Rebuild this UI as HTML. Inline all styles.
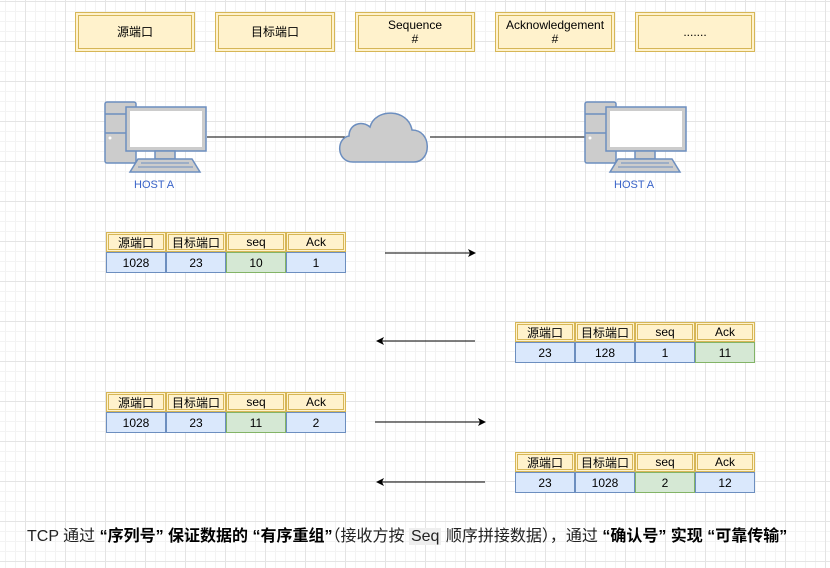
<!DOCTYPE html><html><head><meta charset="utf-8"><style>
body{margin:0;width:830px;height:568px;overflow:hidden;position:relative;font-family:"Liberation Sans","Noto Sans CJK SC",sans-serif;
background-color:#fff;
background-image:linear-gradient(#e4e4e4 1px,transparent 1px),linear-gradient(90deg,#e4e4e4 1px,transparent 1px),linear-gradient(#f3f3f3 1px,transparent 1px),linear-gradient(90deg,#f3f3f3 1px,transparent 1px);
background-size:40px 40px,40px 40px,10px 10px,10px 10px;background-position:0 1px,25px 0,0 1px,5px 0;}
.b{position:absolute;box-sizing:border-box;background:#fff2cc;border:1px solid #d6b656;box-shadow:inset 0 0 0 2px #fff2cc,inset 0 0 0 3px #d6b656;display:flex;align-items:center;justify-content:center;text-align:center;font-size:12px;color:#000;line-height:14px}
.c{position:absolute;box-sizing:border-box;display:flex;align-items:center;justify-content:center;font-size:12px;color:#000}
.h{background:#fff2cc;border:1px solid #d6b656;box-shadow:inset 0 0 0 1px #fff2cc,inset 0 0 0 2px #d6b656}
.d{background:#dae8fc;border:1px solid #6c8ebf}
.g{background:#d5e8d4;border:1px solid #82b366}
.lbl{position:absolute;font-size:11px;color:#3a64c8}
.txt{position:absolute;left:27px;top:522px;font-size:16px;color:#222;white-space:nowrap}
.txt b{color:#000}
.sq{background:#eee;padding:0 2px}
</style></head><body>
<div class="b" style="left:75px;top:12px;width:120px;height:40px">源端口</div>
<div class="b" style="left:215px;top:12px;width:120px;height:40px">目标端口</div>
<div class="b" style="left:355px;top:12px;width:120px;height:40px">Sequence<br>#</div>
<div class="b" style="left:495px;top:12px;width:120px;height:40px">Acknowledgement<br>#</div>
<div class="b" style="left:635px;top:12px;width:120px;height:40px">.......</div>

<svg width="830" height="568" style="position:absolute;left:0;top:0">
<defs><marker id="a" markerWidth="8" markerHeight="8" refX="7" refY="4" orient="auto" markerUnits="userSpaceOnUse"><path d="M0,0 L8,4 L0,8 L2,4z" fill="#000"/></marker>
<g id="pc">
<rect x="0" y="1" width="31" height="61" rx="2" fill="#ccc" stroke="#6c8ebf" stroke-width="1.5"/>
<line x1="0" y1="13" x2="31" y2="13" stroke="#6c8ebf" stroke-width="1.5"/>
<line x1="0" y1="32" x2="31" y2="32" stroke="#6c8ebf" stroke-width="1.5"/>
<circle cx="5" cy="37" r="1.5" fill="#fff"/>
<rect x="21" y="6" width="80" height="44" fill="#ccc" stroke="#6c8ebf" stroke-width="1.5"/>
<rect x="25" y="10" width="72" height="36" fill="#fff"/>
<rect x="50" y="50" width="20" height="8" fill="#ccc" stroke="#6c8ebf" stroke-width="1.5"/>
<path d="M33,58 L87,58 L95,71 L25,71z" fill="#ccc" stroke="#6c8ebf" stroke-width="1.5"/>
<line x1="36" y1="62" x2="84" y2="62" stroke="#6c8ebf"/><line x1="33" y1="66" x2="88" y2="66" stroke="#6c8ebf"/>
</g></defs>
<line x1="207" y1="137" x2="345" y2="137" stroke="#000"/>
<line x1="430" y1="137" x2="585" y2="137" stroke="#000"/>
<path d="M353,162 C336,162 336,138 349,136 C349,124 362,120 370,127 C375,108 408,108 412,130 C432,130 432,162 414,162 Z" fill="#ccc" stroke="#6c8ebf" stroke-width="1.5"/>
<use href="#pc" x="105" y="101"/>
<use href="#pc" x="585" y="101"/>
<line x1="385" y1="253" x2="475" y2="253" stroke="#000" marker-end="url(#a)"/>
<line x1="475" y1="341" x2="377" y2="341" stroke="#000" marker-end="url(#a)"/>
<line x1="375" y1="422" x2="485" y2="422" stroke="#000" marker-end="url(#a)"/>
<line x1="485" y1="482" x2="377" y2="482" stroke="#000" marker-end="url(#a)"/>
</svg>
<div class="lbl" style="left:134px;top:179px">HOST A</div>
<div class="lbl" style="left:614px;top:179px">HOST A</div>

<div class="c h" style="left:106px;top:232px;width:60px;height:20px">源端口</div>
<div class="c h" style="left:166px;top:232px;width:60px;height:20px">目标端口</div>
<div class="c h" style="left:226px;top:232px;width:60px;height:20px">seq</div>
<div class="c h" style="left:286px;top:232px;width:60px;height:20px">Ack</div>
<div class="c d" style="left:106px;top:252px;width:60px;height:21px">1028</div>
<div class="c d" style="left:166px;top:252px;width:60px;height:21px">23</div>
<div class="c g" style="left:226px;top:252px;width:60px;height:21px">10</div>
<div class="c d" style="left:286px;top:252px;width:60px;height:21px">1</div>

<div class="c h" style="left:515px;top:322px;width:60px;height:20px">源端口</div>
<div class="c h" style="left:575px;top:322px;width:60px;height:20px">目标端口</div>
<div class="c h" style="left:635px;top:322px;width:60px;height:20px">seq</div>
<div class="c h" style="left:695px;top:322px;width:60px;height:20px">Ack</div>
<div class="c d" style="left:515px;top:342px;width:60px;height:21px">23</div>
<div class="c d" style="left:575px;top:342px;width:60px;height:21px">128</div>
<div class="c d" style="left:635px;top:342px;width:60px;height:21px">1</div>
<div class="c g" style="left:695px;top:342px;width:60px;height:21px">11</div>

<div class="c h" style="left:106px;top:392px;width:60px;height:20px">源端口</div>
<div class="c h" style="left:166px;top:392px;width:60px;height:20px">目标端口</div>
<div class="c h" style="left:226px;top:392px;width:60px;height:20px">seq</div>
<div class="c h" style="left:286px;top:392px;width:60px;height:20px">Ack</div>
<div class="c d" style="left:106px;top:412px;width:60px;height:21px">1028</div>
<div class="c d" style="left:166px;top:412px;width:60px;height:21px">23</div>
<div class="c g" style="left:226px;top:412px;width:60px;height:21px">11</div>
<div class="c d" style="left:286px;top:412px;width:60px;height:21px">2</div>

<div class="c h" style="left:515px;top:452px;width:60px;height:20px">源端口</div>
<div class="c h" style="left:575px;top:452px;width:60px;height:20px">目标端口</div>
<div class="c h" style="left:635px;top:452px;width:60px;height:20px">seq</div>
<div class="c h" style="left:695px;top:452px;width:60px;height:20px">Ack</div>
<div class="c d" style="left:515px;top:472px;width:60px;height:21px">23</div>
<div class="c d" style="left:575px;top:472px;width:60px;height:21px">1028</div>
<div class="c g" style="left:635px;top:472px;width:60px;height:21px">2</div>
<div class="c d" style="left:695px;top:472px;width:60px;height:21px">12</div>

<div class="txt">TCP 通过 <b>“序列号” 保证数据的 “有序重组”</b>（接收方按 <span class="sq">Seq</span> 顺序拼接数据），通过 <b>“确认号” 实现 “可靠传输”</b></div>
</body></html>
